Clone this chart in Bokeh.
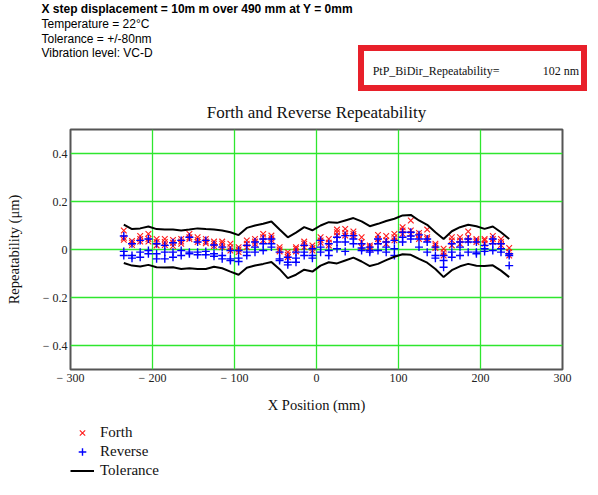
from bokeh.plotting import figure
from bokeh.layouts import column
from bokeh.models import (Div, Legend, LegendItem, FixedTicker, Range1d, ColumnDataSource)
from bokeh.embed import file_html
from bokeh.resources import INLINE

# ---------------- data ----------------
x_pos = [-235, -225, -215, -205, -195, -185, -175, -165, -155, -145,
         -135, -125, -115, -105, -95, -85, -75, -65, -55, -45,
         -35, -25, -15, -5, 5, 15, 25, 35, 45, 55,
         65, 75, 85, 95, 105, 115, 125, 135, 145, 155,
         165, 175, 185, 195, 205, 215, 225, 235]

forth_a = [0.079, 0.036, 0.056, 0.065, 0.044, 0.044, 0.040, 0.044, 0.065, 0.051,
           0.044, 0.033, 0.033, 0.024, 0.010, 0.038, 0.044, 0.065, 0.058, 0.010,
           -0.011, 0.010, 0.033, 0.017, 0.051, 0.044, 0.083, 0.086, 0.075, 0.051,
           0.017, 0.061, 0.056, 0.065, 0.093, 0.121, 0.069, 0.083, 0.024, 0.003,
           0.051, 0.051, 0.075, 0.044, 0.044, 0.056, 0.044, 0.006]
forth_b = [0.049, 0.028, 0.044, 0.044, 0.031, 0.031, 0.028, 0.033, 0.051, 0.040,
           0.033, 0.024, 0.024, 0.010, 0.000, 0.024, 0.033, 0.051, 0.047, 0.000,
           -0.022, 0.003, 0.024, 0.006, 0.038, 0.028, 0.072, 0.069, 0.065, 0.031,
           0.010, 0.044, 0.038, 0.051, 0.079, 0.079, 0.058, 0.051, 0.017, -0.011,
           0.038, 0.038, 0.051, 0.038, 0.038, 0.044, 0.031, -0.011]
forth_c = [0.040, 0.019, 0.033, 0.033, 0.017, 0.019, 0.014, 0.024, 0.044, 0.031,
           0.026, 0.014, 0.010, -0.004, -0.011, 0.010, 0.024, 0.038, 0.038, -0.008,
           -0.032, -0.008, 0.010, -0.004, 0.028, 0.017, 0.058, 0.058, 0.056, 0.010,
           0.003, 0.031, 0.024, 0.038, 0.065, 0.065, 0.044, 0.044, 0.006, -0.025,
           0.017, 0.024, 0.038, 0.031, 0.024, 0.031, 0.019, -0.025]

reverse_a = [0.056, 0.024, 0.038, 0.044, 0.024, 0.017, 0.028, 0.038, 0.051, 0.031,
             0.038, 0.019, 0.010, -0.004, -0.004, 0.017, 0.031, 0.044, 0.044, -0.011,
             -0.032, -0.011, 0.017, 0.003, 0.038, 0.024, 0.051, 0.058, 0.058, 0.024,
             0.010, 0.044, 0.031, 0.038, 0.072, 0.072, 0.061, 0.044, 0.010, -0.025,
             0.024, 0.031, 0.044, 0.031, 0.017, 0.044, 0.024, -0.018]
reverse_b = [-0.008, -0.025, -0.011, -0.004, -0.018, -0.011, -0.011, -0.004, -0.011, -0.011,
             -0.008, -0.018, -0.025, -0.039, -0.036, -0.011, 0.010, 0.024, 0.024, -0.039,
             -0.053, -0.036, -0.011, -0.025, 0.010, -0.004, 0.031, 0.031, 0.044, 0.006,
             -0.004, 0.024, 0.010, 0.003, 0.051, 0.056, 0.044, 0.031, -0.025, -0.046,
             -0.011, 0.010, 0.031, -0.011, 0.003, 0.024, 0.003, -0.025]
reverse_c = [-0.025, -0.036, -0.032, -0.018, -0.039, -0.039, -0.032, -0.025, -0.018, -0.022,
             -0.022, -0.028, -0.039, -0.046, -0.050, -0.025, -0.011, -0.004, 0.010, -0.046,
             -0.064, -0.053, -0.025, -0.036, -0.011, -0.025, 0.003, -0.008, 0.024, -0.004,
             -0.011, -0.004, -0.011, -0.025, 0.031, 0.044, 0.010, -0.011, -0.036, -0.074,
             -0.032, -0.025, -0.011, -0.018, -0.008, -0.004, -0.011, -0.067]

tol_upper = [0.104, 0.085, 0.088, 0.096, 0.085, 0.083, 0.083, 0.079, 0.083, 0.088,
             0.085, 0.083, 0.079, 0.072, 0.060, 0.090, 0.100, 0.107, 0.117, 0.083,
             0.051, 0.070, 0.093, 0.080, 0.100, 0.114, 0.111, 0.121, 0.131, 0.117,
             0.097, 0.107, 0.119, 0.128, 0.142, 0.144, 0.121, 0.103, 0.072, 0.044,
             0.076, 0.093, 0.103, 0.097, 0.086, 0.096, 0.072, 0.044]
tol_lower = [-0.056, -0.067, -0.071, -0.064, -0.074, -0.075, -0.074, -0.081, -0.078, -0.081,
             -0.081, -0.072, -0.078, -0.092, -0.105, -0.076, -0.067, -0.060, -0.052, -0.082,
             -0.119, -0.105, -0.084, -0.092, -0.067, -0.053, -0.058, -0.046, -0.034, -0.050,
             -0.069, -0.060, -0.044, -0.030, -0.020, -0.022, -0.039, -0.055, -0.081, -0.115,
             -0.086, -0.070, -0.060, -0.068, -0.069, -0.066, -0.088, -0.115]

x_ticks = [-300, -200, -100, 0, 100, 200, 300]
x_tick_labels = ["\u2212 300", "\u2212 200", "\u2212 100", "0", "100", "200", "300"]
y_ticks = [-0.4, -0.2, 0, 0.2, 0.4]
y_tick_labels = ["\u2212 0.4", "\u2212 0.2", "0", "0.2", "0.4"]

header_lines = ["X step displacement = 10m m over 490 mm at Y = 0mm",
                "Temperature = 22\u00b0C",
                "Tolerance = +/-80nm",
                "Vibration level: VC-D"]
result_name = "PtP_BiDir_Repeatability="
result_value = "102 nm"
legend_labels = ["Forth", "Reverse", "Tolerance"]

# ---------------- layout sizes ----------------
W, H = 598, 495
HT = 91                      # header strip height
HP = 327                     # main plot height
HL = H - HT - HP             # legend strip height
FL, FR = 70, 36              # frame left / right borders
FT = 129 - HT                # frame top inside main figure
FB = HT + HP - 369           # frame bottom border

# ---------------- header strip (HTML) ----------------
tops = [2.3, 17.3, 32.0, 46.3]
parts = []
for i, (txt, t) in enumerate(zip(header_lines, tops)):
    weight = "bold" if i == 0 else "normal"
    parts.append(
        f'<div style="position:absolute;left:41.5px;top:{t}px;white-space:nowrap;'
        f'font-family:\'Liberation Sans\';font-size:12px;line-height:14px;'
        f'font-weight:{weight};color:#000;">{txt}</div>')
parts.append('<div style="position:absolute;box-sizing:border-box;left:357.5px;top:45px;'
             'width:229.5px;height:45.7px;border:6.5px solid #e8202a;background:#fff;"></div>')
parts.append(f'<div style="position:absolute;left:372.7px;top:63.7px;white-space:nowrap;'
             f'font-family:\'Liberation Serif\';font-size:12px;line-height:14px;'
             f'color:#111;">{result_name}</div>')
parts.append(f'<div style="position:absolute;right:19px;top:63.7px;white-space:nowrap;'
             f'font-family:\'Liberation Serif\';font-size:12px;line-height:14px;'
             f'color:#111;">{result_value}</div>')
header_html = (f'<div style="position:relative;width:{W}px;height:{HT}px;margin:0;'
               f'padding:0;overflow:hidden;background:#fff;">' + "".join(parts) + '</div>')
head = Div(text=header_html, width=W, height=HT, margin=0,
           styles={"margin": "0", "padding": "0"})

# ---------------- main plot ----------------
p = figure(width=W, height=HP, output_backend="svg", toolbar_location=None,
           x_range=Range1d(-300, 300), y_range=Range1d(-0.5, 0.5),
           min_border_left=FL, min_border_right=FR,
           min_border_top=FT, min_border_bottom=FB, margin=0)
p.background_fill_color = "white"
p.border_fill_color = "white"
p.outline_line_color = "#555555"
p.outline_line_width = 2

p.title.text = "Forth and Reverse Repeatability"
p.title.align = "center"
p.title.text_font = "Liberation Serif"
p.title.text_font_size = "17px"
p.title.text_font_style = "normal"
p.title.text_color = "#111111"
p.title.standoff = 16

p.xaxis.ticker = FixedTicker(ticks=x_ticks)
p.yaxis.ticker = FixedTicker(ticks=y_ticks)
p.xaxis.major_label_overrides = {t: s for t, s in zip(x_ticks, x_tick_labels)}
p.yaxis.major_label_overrides = {t: s for t, s in zip(y_ticks, y_tick_labels)}
for ax in (p.xaxis[0], p.yaxis[0]):
    ax.axis_line_color = None
    ax.major_tick_line_color = None
    ax.minor_tick_line_color = None
    ax.major_tick_out = 0
    ax.major_tick_in = 0
    ax.major_label_text_font = "Liberation Serif"
    ax.major_label_text_font_size = "12px"
    ax.major_label_text_color = "#222222"
    ax.axis_label_text_font = "Liberation Serif"
    ax.axis_label_text_font_size = "14.5px"
    ax.axis_label_text_font_style = "normal"
    ax.axis_label_text_color = "#111111"
p.xaxis.major_label_standoff = 1
p.yaxis.major_label_standoff = 3
p.xaxis.axis_label = "X Position (mm)"
p.yaxis.axis_label = "Repeatability (\u03bcm)"
p.xaxis.axis_label_standoff = 9
p.yaxis.axis_label_standoff = 18

for g in (p.xgrid[0], p.ygrid[0]):
    g.grid_line_color = "#2ee62e"
    g.grid_line_width = 1.3
    g.grid_line_alpha = 1.0

fx_all, fy_all = [], []
for run in (forth_a, forth_b, forth_c):
    fx_all += x_pos
    fy_all += run
rx_all, ry_all = [], []
for run in (reverse_a, reverse_b, reverse_c):
    rx_all += x_pos
    ry_all += run

src_f = ColumnDataSource(dict(x=fx_all, y=fy_all))
src_r = ColumnDataSource(dict(x=rx_all, y=ry_all))

forth_style = dict(marker="x", size=8, line_color="#ff1a1a", line_width=1.1)
reverse_style = dict(marker="cross", size=8, line_color="#0000ff", line_width=1.4)
tol_style = dict(line_color="black", line_width=2)

p.scatter("x", "y", source=src_f, **forth_style)
p.scatter("x", "y", source=src_r, **reverse_style)
p.line(x_pos, tol_upper, **tol_style)
p.line(x_pos, tol_lower, **tol_style)

# ---------------- legend strip ----------------
# The legend keys reuse the same data; this strip's ranges lie away from it,
# so only the legend itself is visible here.
lf = figure(width=W, height=HL, output_backend="svg", toolbar_location=None,
            x_range=Range1d(1000, 1001), y_range=Range1d(1000, 1001),
            x_axis_location=None, y_axis_location=None,
            min_border_left=FL, min_border_right=FR,
            min_border_top=0, min_border_bottom=0, margin=0)
lf.grid.visible = False
lf.outline_line_color = None
lf.background_fill_color = "white"
lf.border_fill_color = "white"
lf.title.visible = False
k_f = lf.scatter("x", "y", source=src_f, **forth_style)
k_r = lf.scatter("x", "y", source=src_r, **reverse_style)
k_t = lf.line(x_pos, tol_upper, **tol_style)
legend = Legend(items=[LegendItem(label=legend_labels[0], renderers=[k_f]),
                       LegendItem(label=legend_labels[1], renderers=[k_r]),
                       LegendItem(label=legend_labels[2], renderers=[k_t])],
                location=(0, HL - 5 - 57), orientation="vertical",
                border_line_color=None, background_fill_alpha=0,
                padding=0, spacing=0, margin=0,
                label_text_font="Liberation Serif", label_text_font_size="15px",
                label_text_color="#111111",
                glyph_width=24, glyph_height=19, label_height=19, label_standoff=6)
lf.add_layout(legend)

layout = column(head, p, lf, spacing=0)
open("out.html", "w").write(file_html(layout, INLINE))
